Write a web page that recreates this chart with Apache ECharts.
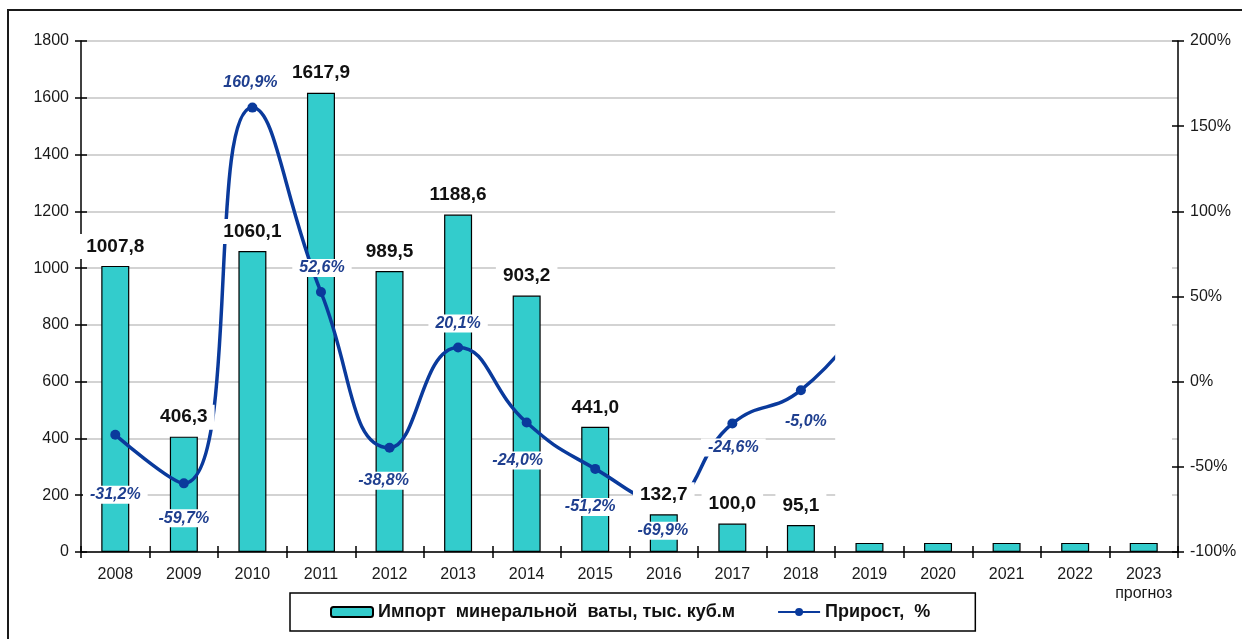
<!DOCTYPE html>
<html>
<head>
<meta charset="utf-8">
<script src="https://cdn.jsdelivr.net/npm/echarts@6/dist/echarts.min.js"></script>
<style>
html,body{margin:0;padding:0;background:#fff;}
#c{width:1242px;height:639px;}
</style>
</head>
<body>
<div id="c"></div>
<script>
// ---- data ----
const years = ['2008','2009','2010','2011','2012','2013','2014','2015','2016','2017','2018','2019','2020','2021','2022','2023'];
const xTickLabels = ['2008','2009','2010','2011','2012','2013','2014','2015','2016','2017','2018','2019','2020','2021','2022','2023\nпрогноз'];
const imports = [1007.8, 406.3, 1060.1, 1617.9, 989.5, 1188.6, 903.2, 441.0, 132.7, 100.0, 95.1, 32, 32, 32, 32, 32];
const growth = [-31.2, -59.7, 160.9, 52.6, -38.8, 20.1, -24.0, -51.2, -69.9, -24.6, -5.0, 40, null, null, null, null];
const labeledYears = ['2008','2009','2010','2011','2012','2013','2014','2015','2016','2017','2018'];
const leftTicks = [0, 1800, 200];
const rightTicks = [-100, 200, 50];
const seriesNames = ['Импорт  минеральной  ваты, тыс. куб.м', 'Прирост,  %'];

// ---- styles (label offsets for growth labels, relative to the point) ----
const growthLabelOffsets = [[0,60],[0,35],[-2,-25],[1,-24],[-6,33],[0,-24],[-9,38],[-5,38],[-1,30],[1,24],[5,31],[0,0]];

const FONT = '"Liberation Sans", Arial, sans-serif';
const fmt1 = v => v.toFixed(1).replace('.', ',');

const barData = imports.slice();
const barLabelData = imports.map((v, i) => labeledYears.includes(years[i]) ? v : {value: v, label: {show: false}});
const lineData = growth.map((v, i) => v === null ? null : {
  value: v,
  label: {offset: growthLabelOffsets[i] || [0, 0], show: labeledYears.includes(years[i])}
});

const axisLineStyle = {color: '#000', width: 1.5};
const option = {
  animation: false,
  backgroundColor: '#fff',
  grid: {left: 81, right: 64, top: 41, bottom: 87, containLabel: false},
  legend: {
    data: seriesNames,
    left: 290, top: 593,
    padding: [10, 45, 10, 40],
    itemGap: 42,
    itemWidth: 42, itemHeight: 10,
    borderColor: '#000', borderWidth: 1.5,
    textStyle: {fontFamily: FONT, fontSize: 18, fontWeight: 'bold', color: '#111'}
  },
  xAxis: [{
    type: 'category', data: years, boundaryGap: true,
    axisLine: {onZero: false, lineStyle: axisLineStyle},
    axisTick: {show: true, length: 6, interval: 0, alignWithLabel: false, lineStyle: axisLineStyle},
    axisLabel: {interval: 0, fontFamily: FONT, fontSize: 16, color: '#1a1a1a', margin: 13, lineHeight: 19,
      formatter: (v, i) => xTickLabels[i]}
  }, {
    type: 'category', data: years, boundaryGap: true, position: 'bottom',
    axisLine: {show: false, onZero: false}, axisLabel: {show: false},
    axisTick: {show: true, interval: 0, inside: true, length: 6, lineStyle: axisLineStyle}
  }],
  yAxis: [{
    type: 'value', min: leftTicks[0], max: leftTicks[1], interval: leftTicks[2],
    axisLine: {show: true, onZero: false, lineStyle: axisLineStyle},
    axisTick: {show: true, length: 6, lineStyle: axisLineStyle},
    axisLabel: {fontFamily: FONT, fontSize: 16, color: '#1a1a1a', margin: 12, formatter: v => String(v)},
    splitLine: {show: true, lineStyle: {color: '#c4c4c4', width: 1.5}}
  }, {
    type: 'value', min: rightTicks[0], max: rightTicks[1], interval: rightTicks[2], position: 'right',
    axisLine: {show: true, onZero: false, lineStyle: axisLineStyle},
    axisTick: {show: true, length: 6, lineStyle: axisLineStyle},
    axisLabel: {fontFamily: FONT, fontSize: 16, color: '#1a1a1a', margin: 12, formatter: v => v + '%'},
    splitLine: {show: false}
  }, {
    type: 'value', min: leftTicks[0], max: leftTicks[1], interval: leftTicks[2], position: 'left',
    axisLine: {show: false, onZero: false}, axisLabel: {show: false}, splitLine: {show: false},
    axisTick: {show: true, inside: true, length: 6, lineStyle: axisLineStyle}
  }, {
    type: 'value', min: rightTicks[0], max: rightTicks[1], interval: rightTicks[2], position: 'right',
    axisLine: {show: false, onZero: false}, axisLabel: {show: false}, splitLine: {show: false},
    axisTick: {show: true, inside: true, length: 6, lineStyle: axisLineStyle}
  }],
  series: [{
    name: seriesNames[0], type: 'bar', data: barData, barWidth: 28, z: 2,
    itemStyle: {color: '#33cccc', borderColor: '#000', borderWidth: 1.2}
  }, {
    name: seriesNames[1], type: 'line', yAxisIndex: 1, data: lineData, z: 3,
    smooth: true, symbol: 'circle', symbolSize: 10,
    lineStyle: {color: '#0a3a9c', width: 3.5},
    itemStyle: {color: '#0a3a9c'},
    label: {show: true, position: 'inside', fontFamily: FONT, fontSize: 16, fontWeight: 'bold', fontStyle: 'italic',
      color: '#1f3f8f', backgroundColor: '#fff', padding: [1, 7],
      formatter: p => fmt1(p.value) + '%'}
  }, {
    name: 'labels', type: 'bar', data: barLabelData, barWidth: 28, barGap: '-100%', z: 5,
    itemStyle: {color: 'rgba(0,0,0,0)', borderWidth: 0},
    label: {show: true, position: 'top', distance: 7, fontFamily: FONT, fontSize: 19, fontWeight: 'bold',
      color: '#111', backgroundColor: '#fff', padding: [3, 7],
      formatter: p => fmt1(p.value)},
    tooltip: {show: false}
  }]
};

const chart = echarts.init(document.getElementById('c'), null, {renderer: 'canvas'});
chart.setOption(option);

// decoration: outer frame and the blanked-out forecast area of the original
const xMid18 = chart.convertToPixel({xAxisIndex: 0}, '2018');
const xMid19 = chart.convertToPixel({xAxisIndex: 0}, '2019');
const band = xMid19 - xMid18;
const xMid23 = chart.convertToPixel({xAxisIndex: 0}, '2023');
const boxL = (xMid18 + xMid19) / 2;
const boxR = xMid23 + band / 2 - 6;
const boxT = chart.convertToPixel({yAxisIndex: 0}, 1300);
const boxB = chart.convertToPixel({yAxisIndex: 0}, 40);
chart.setOption({
  graphic: [
    {type: 'rect', id: 'frame', z: 200, silent: true,
      shape: {x: 8, y: 10, width: 1300, height: 700},
      style: {fill: null, stroke: '#1a1a1a', lineWidth: 2}},
    {type: 'rect', id: 'blank', z: 100, silent: true,
      shape: {x: boxL, y: boxT, width: boxR - boxL, height: boxB - boxT},
      style: {fill: '#fff', stroke: null}}
  ]
});
</script>
</body>
</html>
